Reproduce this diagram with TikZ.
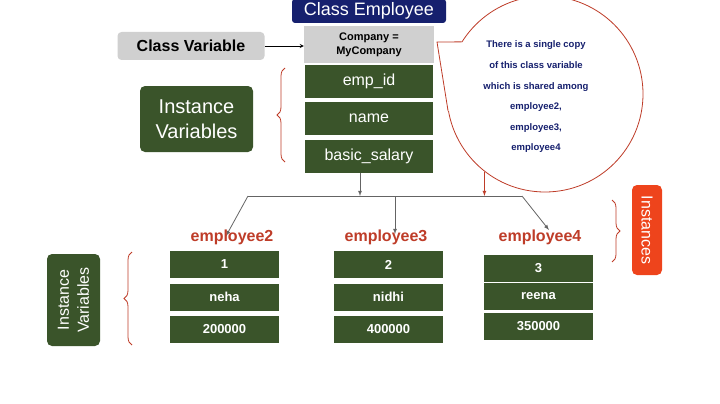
\documentclass[tikz,border=0pt]{standalone}
\usepackage{fontspec}
\setmainfont{Liberation Sans}
\usetikzlibrary{shapes.geometric}
\usetikzlibrary{decorations.pathreplacing}
\definecolor{navybox}{RGB}{22,32,110}
\definecolor{greenbox}{RGB}{58,84,42}
\definecolor{greybox}{RGB}{208,208,208}
\definecolor{brick}{RGB}{190,60,40}
\definecolor{orangebox}{RGB}{238,68,28}
\definecolor{lineg}{RGB}{100,100,100}
\tikzset{
  field/.style={fill=greenbox, text=white, minimum width=128, minimum height=33, inner sep=0pt, font=\fontsize{16}{16}\selectfont},
  cell/.style={fill=greenbox, text=white, minimum width=109, minimum height=27, inner sep=0pt, font=\bfseries\fontsize{13}{13}\selectfont},
  objname/.style={text=brick, font=\bfseries\fontsize{16}{16}\selectfont},
  curly/.style={draw=brick, thick, decorate, decoration={brace, amplitude=8pt}},
  link/.style={draw=lineg, thick, -latex}
}
\begin{document}
\begin{tikzpicture}[x=1pt,y=-1pt]
\useasboundingbox (0,0) rectangle (720,404);

%class box
\node[fill=navybox, text=white, rounded corners=3, minimum width=154, minimum height=24, inner sep=0pt, font=\fontsize{18}{18}\selectfont] (title) at (369,11) {Class Employee};
\node[fill=greybox, minimum width=130, minimum height=37, inner sep=0pt, align=center, font=\bfseries\fontsize{11}{14}\selectfont] (company) at (369,44.5) {Company =\\MyCompany};
\node[field] (empid) at (369,81.5) {emp\_id};
\node[field] (name) at (369,118.5) {name};
\node[field] (salary) at (369,156) {basic\_salary};

%labels on the left
\node[fill=greybox, rounded corners=4, minimum width=147, minimum height=28, inner sep=0pt, font=\bfseries\fontsize{16}{16}\selectfont] (classvar) at (191,46) {Class Variable};
\draw[thick, -stealth] (classvar.east) -- (company.west |- classvar.east);
\node[fill=greenbox, text=white, rounded corners=5, minimum width=113, minimum height=66, inner sep=0pt, align=center, font=\fontsize{20}{25}\selectfont] (instvar) at (196.5,119) {Instance\\Variables};
\draw[curly] (285,162) -- (285,68);

%speech bubble
\node[draw=brick, thick, fill=white, ellipse, minimum width=196, minimum height=196] (bubble) at (545,94) {};
\fill[white] (bubble.148) -- (437,42) -- (bubble.190) -- (bubble.center) -- cycle;
\draw[draw=brick, thick] (bubble.148) -- (437,42) -- (bubble.190);
\node[text=navybox, align=center, font=\bfseries\fontsize{9.5}{20.6}\selectfont] (note) at (536,97) {There is a single copy\\of this class variable\\which is shared among\\employee2,\\employee3,\\employee4};

%links to instances
\coordinate (split) at (360,196);
\coordinate (left) at (248,196);
\coordinate (right) at (522,196);
\draw[link] (salary.south -| split) -- (split);
\draw[thick, lineg] (left) -- (right);
\draw[draw=brick, thick, -latex] (bubble.232) -- (bubble.232 |- split);
\draw[link] (left) -- (226,236);
\draw[link] (395,196) -- (395,234);
\draw[link] (right) -- (549,230);

%instances
\node[objname] (emp2) at (232,237) {employee2};
\node[objname] (emp3) at (386,237) {employee3};
\node[objname] (emp4) at (540,237) {employee4};
\node[cell] (a1) at (224.5,264.5) {1};
\node[cell] (a2) at (224.5,297) {neha};
\node[cell] (a3) at (224.5,329) {200000};
\node[cell] (b1) at (388.5,264.5) {2};
\node[cell] (b2) at (388.5,297) {nidhi};
\node[cell] (b3) at (388.5,329) {400000};
\node[cell] (c1) at (538.5,268) {3};
\node[cell] (c2) at (538.5,296) {reena};
\node[cell] (c3) at (538.5,326) {350000};

%side labels
\node[fill=greenbox, text=white, rounded corners=5, minimum width=92, minimum height=53, inner sep=0pt, align=center, rotate=90, font=\fontsize{16}{20}\selectfont] (instvar2) at (73.5,300) {Instance\\Variables};
\draw[curly] (132,345) -- (132,252);
\node[fill=orangebox, text=white, rounded corners=5, minimum width=90, minimum height=30, inner sep=0pt, rotate=-90, font=\fontsize{16}{16}\selectfont] (inst) at (647,230) {Instances};
\draw[curly] (612,200) -- (612,262);
\end{tikzpicture}
\end{document}
